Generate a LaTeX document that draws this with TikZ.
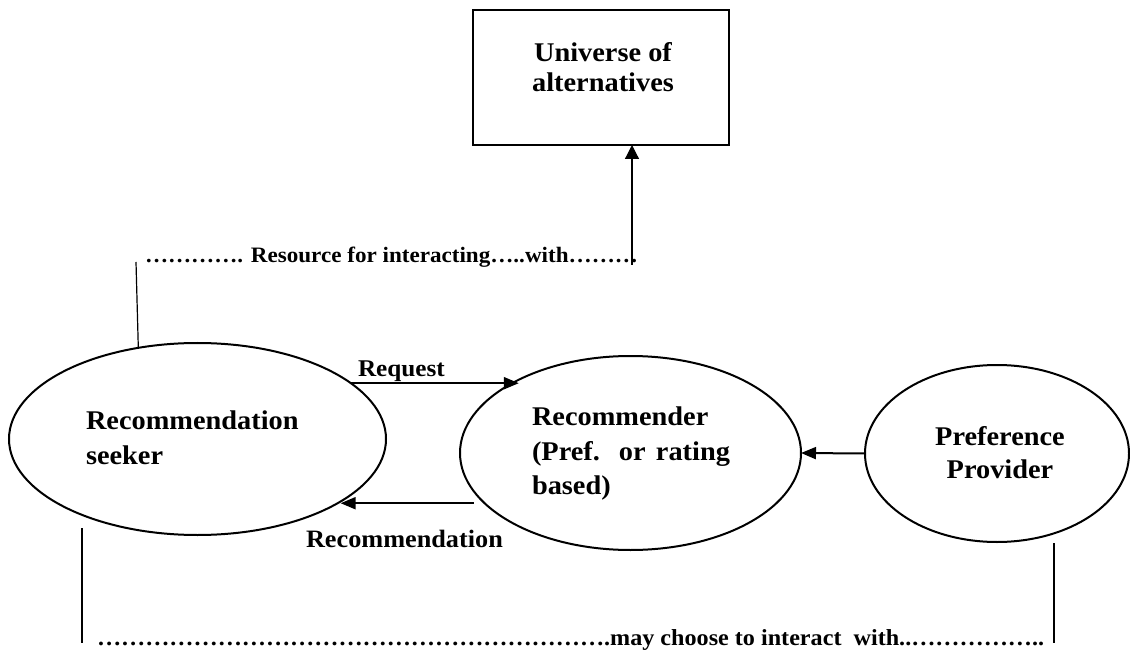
\documentclass[tikz,border=0pt]{standalone}
\usepackage{fontspec}
\setmainfont{Liberation Serif}[FakeStretch=1.05]
\usetikzlibrary{shapes.geometric,arrows.meta}
\ExplSyntaxOn
\NewDocumentCommand\dotrun{m}{\prg_replicate:nn{#1}{…}}
\ExplSyntaxOff
\begin{document}
\begin{tikzpicture}[x=1pt,y=-1pt,
  every node/.style={inner sep=0pt, outer sep=0pt},
  bubble/.style={draw, ellipse, line width=2pt, inner sep=0pt},
  frame/.style={draw, rectangle, line width=2pt},
  lbl/.style={font=\bfseries\fontsize{27}{34}\selectfont},
  tag/.style={font=\bfseries\fontsize{24}{28}\selectfont},
  tagb/.style={font=\bfseries\fontsize{25}{28}\selectfont},
  note/.style={font=\bfseries\fontsize{22}{26}\selectfont},
  noteb/.style={font=\bfseries\fontsize{23}{26}\selectfont},
  flow/.style={line width=2pt, -{Triangle[length=15pt,width=12pt]}},
  rule/.style={line width=1.2pt},
]
\useasboundingbox (0,0) rectangle (1130,652);

% universe box
\node[frame, minimum width=256pt, minimum height=135pt] (universe) at (601,77.5) {};
\node[lbl, anchor=base] (uniA) at (603,62) {Universe of};
\node[lbl, anchor=base] (uniB) at (603,92) {alternatives};

% the three actors
\node[bubble, minimum width=377pt, minimum height=192pt] (seeker) at (197.5,439) {};
\node[bubble, minimum width=341pt, minimum height=194pt] (recommender) at (630.5,453) {};
\node[bubble, minimum width=264pt, minimum height=177pt] (provider) at (997,453.5) {};

\node[lbl, anchor=base west] (seekA) at (86,429) {Recommendation};
\node[lbl, anchor=base west] (seekB) at (86,464) {seeker};

\node[lbl, anchor=base west] (recA) at (532,425) {Recommender};
\node[lbl, anchor=base west] (recB) at (532,460) {\makebox[198pt][s]{(Pref. or rating}};
\node[lbl, anchor=base west] (recC) at (532,494) {based)};

\node[lbl, anchor=base] (provA) at (1000,445) {Preference};
\node[lbl, anchor=base] (provB) at (1000,478) {Provider};

% request / recommendation exchange
\draw[flow, shorten >=-8pt] (seeker.20) -- (seeker.20 -| recommender.150);
\node[tag, anchor=base west] (reqLbl) at (358,376) {Request};
\draw[flow, shorten <=11pt, shorten >=7pt] (recommender.199.4) -- (recommender.199.4 -| seeker.334.9);
\node[tagb, anchor=base west] (recLbl) at (306,547) {Recommendation};

% preferences flow into the recommender
\draw[flow] (provider.west) -- (recommender.east);

% resource link to the universe of alternatives
\node[note, anchor=base west] (resource) at (145,263) {\dotrun{4}. Resource for interacting\dotrun{1}..with\dotrun{3}};
\coordinate (rsStart) at (136,262);
\coordinate (rsEnd) at (632,265);
\draw[rule] (rsStart) -- (seeker.123.6);
\draw[rule, -{Triangle[length=14pt,width=14pt]}] (rsEnd) -- (rsEnd |- universe.south);

% optional interaction between seeker and provider
\coordinate (leftTop) at (82,528);
\coordinate (leftFoot) at (82,643);
\coordinate (rightTop) at (1054,543);
\coordinate (rightFoot) at (1054,643);
\draw[rule] (leftTop) -- (leftFoot);
\draw[line width=2pt] (rightTop) -- (rightFoot);
\node[noteb, anchor=base west] (choose) at (97,645) {\dotrun{21}.may choose to interact\ \ with..\dotrun{5}..};
\end{tikzpicture}
\end{document}
